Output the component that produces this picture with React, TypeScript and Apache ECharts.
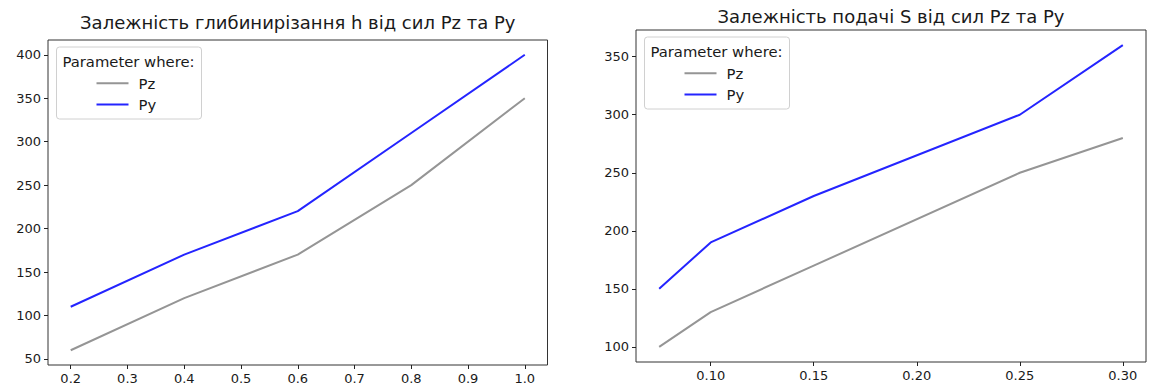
import React, { useEffect, useRef } from "react";
import * as echarts from "echarts";

// ---- data ----
const leftX = [0.2, 0.4, 0.6, 0.8, 1.0];
const leftPz = [60, 120, 170, 250, 350];
const leftPy = [110, 170, 220, 310, 400];

const rightX = [0.075, 0.1, 0.15, 0.25, 0.3];
const rightPz = [100, 130, 170, 250, 280];
const rightPy = [150, 190, 230, 300, 360];

const leftXTicks = [0.2, 0.3, 0.4, 0.5, 0.6, 0.7, 0.8, 0.9, 1.0];
const leftYTicks = [50, 100, 150, 200, 250, 300, 350, 400];
const rightXTicks = [0.1, 0.15, 0.2, 0.25, 0.3];
const rightYTicks = [100, 150, 200, 250, 300, 350];

const seriesNames = ["Pz", "Py"];
const leftTitle = "Залежність глибинирізання h від сил Pz та Py";
const rightTitle = "Залежність подачі S від сил Pz та Py";
const legendTitle = "Parameter where:";

const FONT = "DejaVu Sans";
const PZ_COLOR = "#959595";
const PY_COLOR = "#2424ff";
const TEXT = "#1a1a1a";

function ext(vals: number[]) {
  const mn = Math.min(...vals);
  const mx = Math.max(...vals);
  const m = (mx - mn) * 0.05;
  return [mn - m, mx + m];
}

function zip(xs: number[], ys: number[]) {
  return xs.map((x, i) => [x, ys[i]]);
}

export default function App() {
  const ref = useRef<HTMLDivElement>(null);
  useEffect(() => {
    if (!ref.current) return;
    const chart = echarts.init(ref.current, undefined, { renderer: "svg" });

    const lx = ext(leftX);
    const ly = ext([...leftPz, ...leftPy]);
    const rx = ext(rightX);
    const ry = ext([...rightPz, ...rightPy]);

    const grids = [
      { left: 48, top: 40, width: 499.5, height: 325 },
      { left: 636, top: 30, width: 510, height: 332 },
    ];

    const axisCommon = (ticks: number[], fmt: (v: number) => string) => ({
      type: "value" as const,
      splitLine: { show: false },
      axisLine: { show: false },
      axisTick: {
        show: true,
        inside: false,
        length: 4,
        lineStyle: { color: "#222", width: 1 },
        customValues: ticks,
      },
      axisLabel: {
        color: TEXT,
        fontFamily: FONT,
        fontSize: 13,
        margin: 7,
        customValues: ticks,
        formatter: (v: number) => fmt(v),
      },
    });

    const legendBox = (gi: number) => {
      const g = grids[gi];
      const bx = g.left + 8.5;
      const by = g.top + 7;
      return [
        {
          type: "rect",
          z: 3,
          shape: { x: bx, y: by, width: 145, height: 72, r: 3 },
          style: { fill: "rgba(255,255,255,0.8)", stroke: "#d0d0d0", lineWidth: 1 },
        },
        {
          type: "text",
          z: 6,
          x: bx + 72,
          y: by + 14,
          style: {
            text: legendTitle,
            align: "center",
            verticalAlign: "middle",
            fontFamily: FONT,
            fontSize: 14.8,
            fill: TEXT,
          },
        },
      ];
    };

    const legend = (gi: number) => {
      const g = grids[gi];
      return {
        data: seriesNames,
        orient: "vertical" as const,
        left: g.left + 48.5,
        top: g.top + 32.5,
        padding: 0,
        itemGap: 0,
        itemWidth: 32,
        itemHeight: 2,
        icon: "rect",
        z: 6,
        selectedMode: false,
        textStyle: {
          fontFamily: FONT,
          fontSize: 14.8,
          color: TEXT,
          lineHeight: 21.3,
          padding: [0, 0, 0, 5],
        },
      };
    };

    const mkSeries = (
      name: string,
      xs: number[],
      ys: number[],
      idx: number,
      color: string
    ) => ({
      type: "line" as const,
      name,
      xAxisIndex: idx,
      yAxisIndex: idx,
      data: zip(xs, ys),
      symbol: "none",
      color,
      lineStyle: { color, width: 2 },
      z: 2,
    });

    chart.setOption({
      animation: false,
      textStyle: { fontFamily: FONT },
      grid: grids.map((g) => ({
        ...g,
        show: true,
        borderColor: "#333",
        borderWidth: 1,
        backgroundColor: "transparent",
      })),
      xAxis: [
        { ...axisCommon(leftXTicks, (v) => v.toFixed(1)), gridIndex: 0, min: lx[0], max: lx[1] },
        { ...axisCommon(rightXTicks, (v) => v.toFixed(2)), gridIndex: 1, min: rx[0], max: rx[1] },
      ],
      yAxis: [
        { ...axisCommon(leftYTicks, (v) => String(Math.round(v))), gridIndex: 0, min: ly[0], max: ly[1] },
        { ...axisCommon(rightYTicks, (v) => String(Math.round(v))), gridIndex: 1, min: ry[0], max: ry[1] },
      ],
      legend: [legend(0), legend(1)],
      graphic: [
        {
          type: "text",
          x: grids[0].left + grids[0].width / 2,
          y: 22,
          style: {
            text: leftTitle,
            align: "center",
            verticalAlign: "middle",
            fontFamily: FONT,
            fontSize: 18,
            fill: TEXT,
          },
        },
        {
          type: "text",
          x: grids[1].left + grids[1].width / 2,
          y: 16,
          style: {
            text: rightTitle,
            align: "center",
            verticalAlign: "middle",
            fontFamily: FONT,
            fontSize: 18,
            fill: TEXT,
          },
        },
        ...legendBox(0),
        ...legendBox(1),
      ],
      series: [
        mkSeries("Pz", leftX, leftPz, 0, PZ_COLOR),
        mkSeries("Py", leftX, leftPy, 0, PY_COLOR),
        mkSeries("Pz", rightX, rightPz, 1, PZ_COLOR),
        mkSeries("Py", rightX, rightPy, 1, PY_COLOR),
      ],
    });

    return () => chart.dispose();
  }, []);

  return (
    <div
      ref={ref}
      style={{ position: "absolute", left: 0, top: 0, width: 1151, height: 392, background: "#fff" }}
    />
  );
}
